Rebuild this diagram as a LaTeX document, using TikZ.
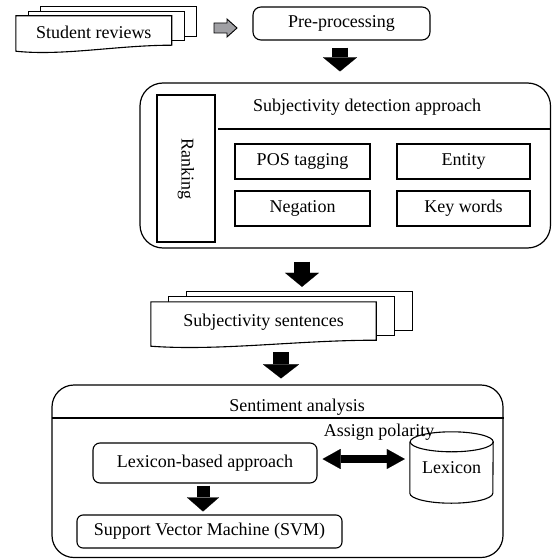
\documentclass[tikz,border=0pt]{standalone}
\usepackage{fontspec}
\setmainfont{Liberation Serif}
\usetikzlibrary{arrows.meta,calc,backgrounds}
\definecolor{arrowgray}{RGB}{160,160,164}

\tikzset{
  box/.style={draw, line width=1.1pt, inner sep=0pt},
  roundbox/.style={box, rounded corners=7pt},
  panel/.style={draw, line width=1.2pt, rounded corners=23pt, inner sep=0pt},
  sheet/.style={draw, line width=1.1pt, fill=white},
  blockarrow/.style={line width=16pt, -{Triangle[length=14pt,width=34pt,line width=0.1pt]}},
  smallarrow/.style={line width=13pt, -{Triangle[length=14pt,width=32pt,line width=0.1pt]}},
}

% stack of three sheets behind a text node
\newcommand{\docstack}[3]{%
  \begin{scope}[on background layer]
    \draw[sheet] ($(#1.north west)+(2*#2,-2*#3)$) rectangle ($(#1.south east)+(2*#2,-3-2*#3)$);
    \draw[sheet] ($(#1.north west)+(#2,-#3)$) rectangle ($(#1.south east)+(#2,-3-#3)$);
    \draw[sheet] (#1.north west) -- (#1.north east) -- ($(#1.south east)+(0,-3)$)
      .. controls ($(#1.south east)!0.35!(#1.south west)+(0,-3)$) and ($(#1.south east)!0.7!(#1.south west)+(0,8)$)
      .. ($(#1.south west)+(0,3)$) -- cycle;
  \end{scope}}

\begin{document}
\begin{tikzpicture}[x=1pt, y=-1pt, font=\fontsize{18}{21}\selectfont]
  \useasboundingbox (0,0) rectangle (552,559);

  % input
  \node[inner sep=0pt, minimum width=155.5pt, minimum height=32pt] (rev) at (93.75,32) {Student reviews};
  \docstack{rev}{12.5}{4.5}
  \node[roundbox, rounded corners=8pt, minimum width=177pt, minimum height=33pt] (pre) at (341.5,23.5) {Pre-processing};
  \coordinate (ga) at (214,28);
  \draw[fill=arrowgray, line width=0.9pt] ($(ga)+(0,-5)$) -- ++(13,0) -- ++(0,-4) -- ++(10,9)
    -- ++(-10,9) -- ++(0,-4) -- ++(-13,0) -- cycle;

  % subjectivity detection
  \node[panel, minimum width=410.5pt, minimum height=165pt] (subj) at (345.25,165.5) {};
  \node (subjtitle) at (367,107) {Subjectivity detection approach};
  \node[box, rotate=-90, minimum width=147pt, minimum height=58pt] (rank) at (186,168.5) {Ranking};
  \coordinate (subjsep) at (218,129);
  \draw[line width=1.1pt] (subjsep) -- (subjsep -| subj.east);
  \node[box, minimum width=135pt, minimum height=35pt] (pos) at (302.5,161.5) {POS tagging};
  \node[box, minimum width=133pt, minimum height=35pt] (entity) at (463.5,161.5) {Entity};
  \node[box, minimum width=135pt, minimum height=35pt] (neg) at (302.5,208.5) {Negation};
  \node[box, minimum width=133pt, minimum height=35pt] (keys) at (463.5,208.5) {Key words};

  % subjective sentences
  \node[inner sep=0pt, minimum width=225pt, minimum height=41pt] (sent) at (263.5,322.5) {Subjectivity sentences};
  \docstack{sent}{18}{5}

  % sentiment analysis
  \node[panel, rounded corners=22pt, minimum width=451pt, minimum height=172.5pt] (senta) at (277.5,471.25) {};
  \node (sentitle) at (297,407) {Sentiment analysis};
  \coordinate (sentsep) at (52,418);
  \draw[line width=1.1pt] (sentsep) -- (sentsep -| senta.east);
  \node[roundbox, minimum width=224pt, minimum height=40pt] (lexapp) at (205,463) {Lexicon-based approach};
  \node[roundbox, rounded corners=6pt, minimum width=265pt, minimum height=33pt] (svm) at (209.5,531.5) {Support Vector Machine (SVM)};
  \node[inner sep=0pt, minimum width=83pt, minimum height=71pt] (lex) at (451.5,467.5) {Lexicon};
  \draw[line width=1.1pt] ($(lex.north west)+(0,10)$) -- ($(lex.south west)+(0,-10)$)
    arc[start angle=180, end angle=360, x radius=41.5pt, y radius=10pt]
    -- ($(lex.north east)+(0,10)$)
    arc[start angle=0, end angle=180, x radius=41.5pt, y radius=10pt];
  \draw[line width=1.1pt] ($(lex.north east)+(0,10)$) arc[start angle=0, end angle=-180, x radius=41.5pt, y radius=10pt];
  \node (pol) at (379,432) {Assign polarity};

  % block arrows
  \coordinate (a1) at ([xshift=-1.5pt]pre.south);
  \draw[blockarrow, shorten <=7pt, shorten >=11pt] (a1) -- (a1 |- subj.north);
  \coordinate (a2) at ([xshift=-43.25pt]subj.south);
  \draw[blockarrow, shorten <=13pt, shorten >=15pt] (a2) -- (a2 |- sent.north);
  \coordinate (a3) at ([xshift=17.5pt]sent.south);
  \draw[blockarrow, line width=16pt, -{Triangle[length=14pt,width=36pt,line width=0.1pt]}, shorten <=9pt, shorten >=6pt] (a3) -- (a3 |- senta.north);
  \coordinate (a4) at ([xshift=-2pt]lexapp.south);
  \draw[smallarrow, shorten <=2pt, shorten >=3pt] (a4) -- (a4 |- svm.north);
  \coordinate (dbl) at ([yshift=4pt]lexapp.east);
  \draw[line width=8pt, {Triangle[length=18pt,width=20pt,line width=0.1pt]}-{Triangle[length=18pt,width=20pt,line width=0.1pt]},
        shorten <=5pt, shorten >=5pt] (dbl) -- (dbl -| lex.west);
\end{tikzpicture}
\end{document}
